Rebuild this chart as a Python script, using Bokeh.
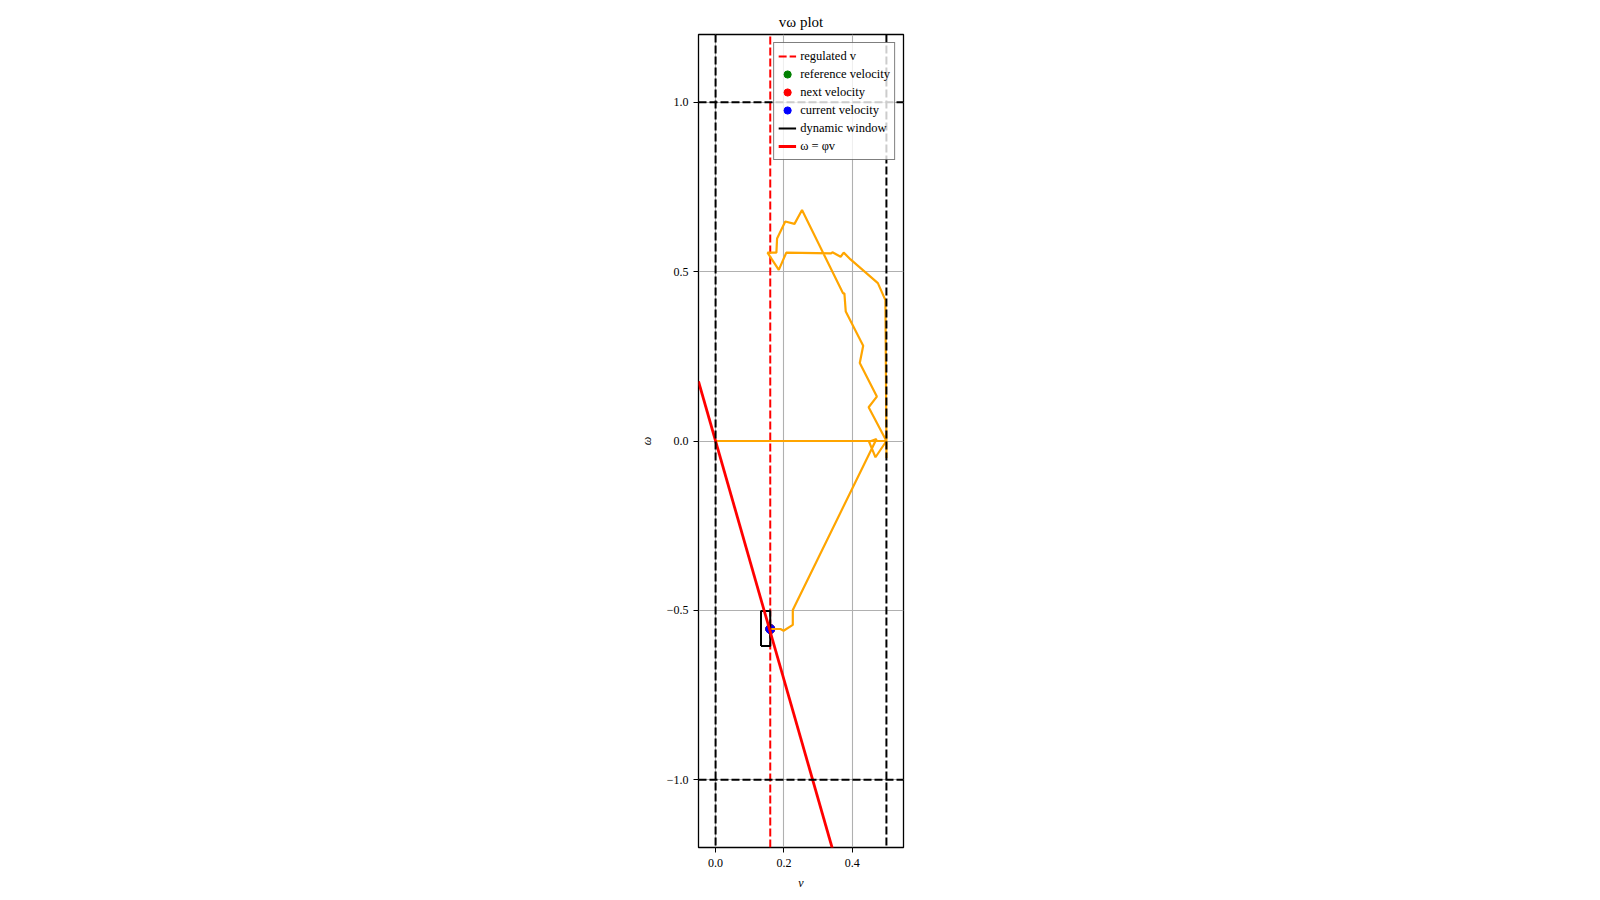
from bokeh.plotting import figure
from bokeh.models import Range1d, FixedTicker, Legend, LegendItem, Span
from bokeh.embed import file_html
from bokeh.resources import INLINE

# ---- data ----
V_LIMITS = [0.0, 0.5]          # dashed black verticals
W_LIMITS = [-1.0, 1.0]         # dashed black horizontals
REG_V = 0.16                   # regulated v
PHI = -3.52                    # omega = phi * v
LINE_V = [-0.05, 0.55]
CUR_V, CUR_W = 0.16, -0.555
NEXT_V, NEXT_W = 0.16, -0.555
REF_V, REF_W = 0.16, -0.555
DW_V = [0.133, 0.16]
DW_W = [-0.605, -0.502]

traj_v = [0.0, 0.5, 0.5, 0.5, 0.497, 0.475, 0.395, 0.375, 0.366, 0.342, 0.338,
          0.207, 0.185, 0.152, 0.178, 0.180, 0.204, 0.231, 0.253, 0.373, 0.377,
          0.381, 0.432, 0.422, 0.472, 0.448, 0.5, 0.468, 0.449, 0.471, 0.226,
          0.226, 0.199, 0.19, 0.16]
traj_w = [0.0, 0.0, -0.05, 0.0, 0.416, 0.466, 0.536, 0.556, 0.544, 0.557, 0.554,
          0.556, 0.505, 0.556, 0.556, 0.598, 0.648, 0.641, 0.682, 0.436, 0.436,
          0.382, 0.281, 0.230, 0.131, 0.0995, 0.0, -0.048, -0.002, 0.006, -0.499,
          -0.543, -0.560, -0.555, -0.555]

X_TICKS = [0.0, 0.2, 0.4]
X_TICK_LABELS = ["0.0", "0.2", "0.4"]
Y_TICKS = [-1.0, -0.5, 0.0, 0.5, 1.0]
Y_TICK_LABELS = ["\u22121.0", "\u22120.5", "0.0", "0.5", "1.0"]

FONT = "Liberation Serif"

p = figure(width=1584, height=896, output_backend="svg", toolbar_location=None,
           x_range=Range1d(-0.05, 0.55), y_range=Range1d(-1.2, 1.2),
           min_border_left=698, min_border_right=681,
           min_border_top=34, min_border_bottom=49)

p.title.text = "v\u03c9 plot"
p.title.align = "center"
p.title.text_font = FONT
p.title.text_font_size = "15px"
p.title.text_font_style = "normal"
p.title.text_color = "black"
p.title.standoff = 10

p.outline_line_color = "black"
p.outline_line_width = 1.3
p.outline_line_alpha = 1.0

for ax, ticks, labels in ((p.xaxis[0], X_TICKS, X_TICK_LABELS), (p.yaxis[0], Y_TICKS, Y_TICK_LABELS)):
    ax.ticker = FixedTicker(ticks=ticks)
    ax.major_label_overrides = {t: l for t, l in zip(ticks, labels)}
    ax.minor_tick_line_color = None
    ax.axis_line_color = None
    ax.major_tick_line_color = "black"
    ax.major_tick_in = 0
    ax.major_tick_out = 5
    ax.major_label_text_font = FONT
    ax.major_label_text_font_size = "12px"
    ax.major_label_text_color = "black"
    ax.axis_label_text_font = FONT
    ax.axis_label_text_font_size = "12px"
    ax.axis_label_text_font_style = "italic"
    ax.axis_label_text_color = "black"

p.xaxis.axis_label = "v"
p.yaxis.axis_label = "\u03c9"
p.xaxis.major_label_standoff = 6
p.yaxis.major_label_standoff = 5
p.xaxis.axis_label_standoff = 6
p.yaxis.axis_label_standoff = 10

p.xgrid.ticker = FixedTicker(ticks=X_TICKS)
p.ygrid.ticker = FixedTicker(ticks=Y_TICKS)
p.grid.grid_line_color = "#b0b0b0"
p.grid.grid_line_width = 1.1

# scatter (drawn below lines)
r_ref = p.scatter([REF_V], [REF_W], size=9, color="green")
r_next = p.scatter([NEXT_V], [NEXT_W], size=9, color="red")
r_cur = p.scatter([CUR_V], [CUR_W], size=9, color="blue")

# dashed limit lines
for v in V_LIMITS:
    p.add_layout(Span(location=v, dimension="height", line_color="black",
                      line_width=2, line_dash="8 3"))
for w in W_LIMITS:
    p.add_layout(Span(location=w, dimension="width", line_color="black",
                      line_width=2, line_dash="8 3"))

r_reg = p.line([REG_V, REG_V], [-1.2, 1.2], line_color="red", line_width=2, line_dash="8 3")

r_traj = p.line(traj_v, traj_w, line_color="orange", line_width=2.2)

r_dw = p.line([DW_V[0], DW_V[1], DW_V[1], DW_V[0], DW_V[0]],
              [DW_W[0], DW_W[0], DW_W[1], DW_W[1], DW_W[0]],
              line_color="black", line_width=2)

r_phi = p.line(LINE_V, [PHI * v for v in LINE_V], line_color="red", line_width=2.8)

legend = Legend(items=[
    LegendItem(label="regulated v", renderers=[r_reg]),
    LegendItem(label="reference velocity", renderers=[r_ref]),
    LegendItem(label="next velocity", renderers=[r_next]),
    LegendItem(label="current velocity", renderers=[r_cur]),
    LegendItem(label="dynamic window", renderers=[r_dw]),
    LegendItem(label="\u03c9 = \u03c6v", renderers=[r_phi]),
], location="top_right")
legend.label_text_font = FONT
legend.label_text_font_size = "12.5px"
legend.label_text_color = "black"
legend.label_height = 18
legend.glyph_height = 18
legend.glyph_width = 18
legend.label_standoff = 4
legend.spacing = 0
legend.padding = 4
legend.margin = 8
legend.border_line_color = "black"
legend.border_line_width = 1
legend.background_fill_alpha = 0.8
p.add_layout(legend)

open("out.html", "w").write(file_html(p, INLINE))
